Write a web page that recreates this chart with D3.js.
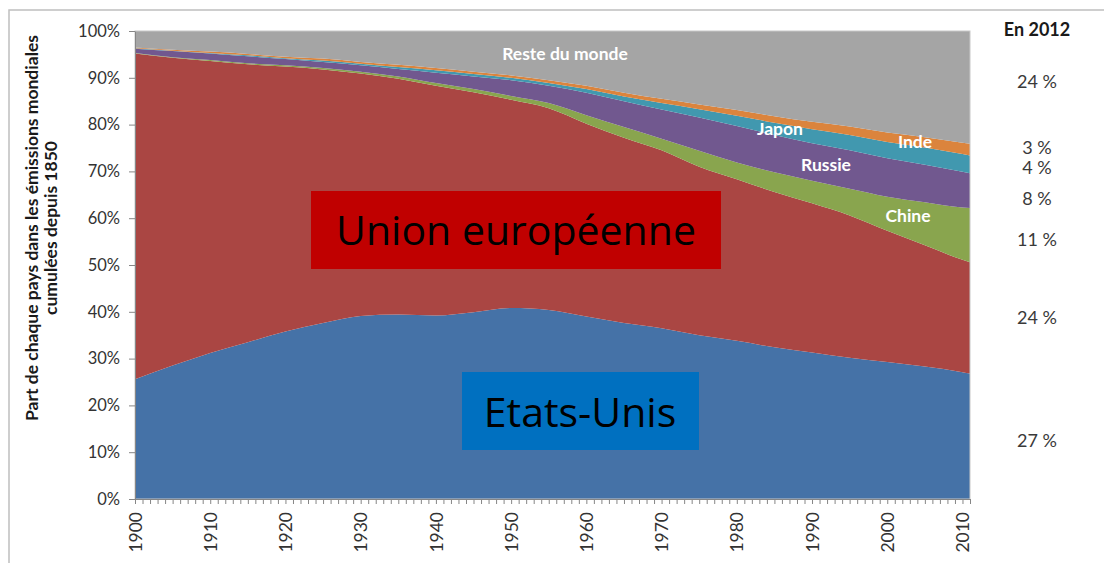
<!DOCTYPE html>
<html lang="fr">
<head>
  <meta charset="UTF-8">
  <title>Emissions cumulées depuis 1850</title>
  <style>
    body { margin: 0; background: #fff; }
    svg { display: block; font-family: Lato, 'Open Sans', sans-serif; }
    .axis path, .axis line { stroke: #868686; }
    .axis text { fill: #333; font-size: 16.5px; font-family: Lato, sans-serif; }
    .xaxis text { font-size: 17.5px; }
    .inlabel { fill: #fff; font-weight: bold; font-size: 17.5px; }
    .share { fill: #3a3a3a; font-size: 18px; }
    .big { font-family: 'Open Sans', sans-serif; fill: #000; }
  </style>
</head>
<body>
<script src="https://cdnjs.cloudflare.com/ajax/libs/d3/7.8.5/d3.min.js"></script>
<script>
  // data (% of cumulative world emissions since 1850)
  const years     = [1900,1905,1910,1915,1920,1925,1930,1935,1940,1945,1950,1955,1960,1965,1970,1975,1980,1985,1990,1995,2000,2005,2010,2011];
  const etatsUnis = [25.6,28.5,31.2,33.5,35.8,37.6,39.1,39.4,39.2,39.9,40.8,40.4,39.0,37.6,36.5,35.0,33.8,32.4,31.3,30.2,29.3,28.3,27.1,26.8];
  const unionEur  = [69.6,65.8,62.4,59.4,56.6,54.2,51.8,50.4,49.1,47.0,44.5,43.1,41.2,39.6,38.0,36.0,34.5,33.2,31.9,30.4,28.0,25.9,24.0,23.8];
  const chine     = [0.1,0.1,0.2,0.2,0.3,0.3,0.4,0.5,0.6,0.7,0.8,1.1,1.8,2.3,2.5,3.4,3.6,4.2,4.8,5.7,7.3,9.2,11.2,11.6];
  const russie    = [0.9,1.3,1.4,1.5,1.3,1.3,1.4,1.6,2.2,2.7,3.4,3.7,4.8,5.5,6.2,7.1,7.8,8.0,8.0,8.2,8.2,8.0,7.6,7.4];
  const japon     = [0.1,0.1,0.1,0.2,0.2,0.3,0.3,0.4,0.5,0.5,0.5,0.6,0.8,1.0,1.4,1.8,2.2,2.6,3.0,3.3,3.5,3.7,3.8,3.8];
  const inde      = [0.2,0.2,0.3,0.3,0.3,0.4,0.4,0.5,0.5,0.5,0.5,0.6,0.7,0.8,0.9,1.0,1.2,1.4,1.6,1.8,2.0,2.2,2.4,2.5];
  const reste     = [3.5,4.0,4.4,4.9,5.5,5.9,6.6,7.2,7.9,8.7,9.5,10.5,11.7,13.2,14.5,15.7,16.9,18.2,19.4,20.4,21.7,22.7,23.9,24.1];

  const seriesKeys   = ['us','ue','chine','russie','japon','inde','reste'];
  const seriesColors = ['#4572A7','#AA4643','#89A54E','#71588F','#4198AF','#DB843D','#A5A5A5'];

  const yTicks = [0,10,20,30,40,50,60,70,80,90,100];
  const decades = [1900,1910,1920,1930,1940,1950,1960,1970,1980,1990,2000,2010];

  // values shown at the right, "En 2012"
  const share2012 = ['24 %','3 %','4 %','8 %','11 %','24 %','27 %'];

  const W = 1104, H = 563;
  const plot = {left: 135, right: 970, top: 31, bottom: 499};

  const svg = d3.select('body').append('svg').attr('width', W).attr('height', H);

  // outer frame
  svg.append('rect')
    .attr('x', 9).attr('y', 10).attr('width', 1200).attr('height', 700)
    .attr('fill', 'none').attr('stroke', '#BFBFBF').attr('stroke-width', 1.5);

  const x = d3.scaleLinear().domain([1900, 2011]).range([plot.left, plot.right]);
  const y = d3.scaleLinear().domain([0, 100]).range([plot.bottom, plot.top]);

  const table = years.map((yr, i) => ({
    year: yr, us: etatsUnis[i], ue: unionEur[i], chine: chine[i], russie: russie[i],
    japon: japon[i], inde: inde[i], reste: reste[i]
  }));

  const stacked = d3.stack().keys(seriesKeys)(table);

  const area = d3.area()
    .x(d => x(d.data.year))
    .y0(d => y(d[0]))
    .y1(d => y(Math.min(100, d[1])))
    .curve(d3.curveMonotoneX);

  svg.append('g').selectAll('path')
    .data(stacked)
    .join('path')
    .attr('d', area)
    .attr('fill', (d, i) => seriesColors[i]);

  // plot area border
  svg.append('rect')
    .attr('x', plot.left).attr('y', plot.top)
    .attr('width', plot.right - plot.left).attr('height', plot.bottom - plot.top)
    .attr('fill', 'none').attr('stroke', '#C8C8C8');

  // y axis
  svg.append('g')
    .attr('class', 'axis')
    .attr('transform', `translate(${plot.left},0)`)
    .call(d3.axisLeft(y).tickValues(yTicks).tickFormat(d => d + '%').tickSize(6).tickSizeOuter(0).tickPadding(9));

  // x axis: minor tick every year, label every decade
  const xAxis = svg.append('g')
    .attr('class', 'axis xaxis')
    .attr('transform', `translate(0,${plot.bottom})`)
    .call(d3.axisBottom(x).tickValues(d3.range(1900, 2012)).tickSize(5).tickSizeOuter(0)
      .tickFormat(d => decades.includes(d) ? d : ''));
  xAxis.selectAll('text')
    .attr('transform', 'rotate(-90)')
    .attr('x', -13).attr('y', 0).attr('dy', '0.35em')
    .style('text-anchor', 'end');

  // y axis title
  const title = svg.append('text')
    .attr('transform', 'translate(0,228) rotate(-90)')
    .attr('text-anchor', 'middle')
    .style('font-weight', 'bold').style('font-size', '17.5px').style('fill', '#1a1a1a');
  title.append('tspan').attr('x', 0).attr('y', 38).text('Part de chaque pays dans les émissions mondiales');
  title.append('tspan').attr('x', 0).attr('y', 57).text('cumulées depuis 1850');

  // labels inside the areas
  const inLabels = [
    {t: 'Reste du monde', x: 565, y: 54},
    {t: 'Japon', x: 780, y: 129},
    {t: 'Inde', x: 915, y: 142},
    {t: 'Russie', x: 826, y: 165},
    {t: 'Chine', x: 908, y: 216}
  ];
  svg.selectAll('.inlabel')
    .data(inLabels)
    .join('text')
    .attr('class', 'inlabel')
    .attr('x', d => d.x).attr('y', d => d.y)
    .attr('dy', '0.35em')
    .attr('text-anchor', 'middle')
    .text(d => d.t);

  // big boxed labels
  svg.append('rect').attr('x', 311).attr('y', 191).attr('width', 410).attr('height', 78).attr('fill', '#C00000');
  svg.append('text').attr('class', 'big').attr('x', 516).attr('y', 245)
    .attr('text-anchor', 'middle').style('font-size', '41px').text('Union européenne');

  svg.append('rect').attr('x', 462).attr('y', 372).attr('width', 237).attr('height', 78).attr('fill', '#0070C0');
  svg.append('text').attr('class', 'big').attr('x', 580).attr('y', 427)
    .attr('text-anchor', 'middle').style('font-size', '41px').text('Etats-Unis');

  // right column "En 2012"
  svg.append('text')
    .attr('x', 1037).attr('y', 30).attr('dy', '0.35em')
    .attr('text-anchor', 'middle')
    .style('font-weight', 'bold').style('font-size', '18px').style('fill', '#1a1a1a')
    .text('En 2012');

  const shareY = [82, 148, 168, 199, 240, 318, 441];
  svg.selectAll('.share')
    .data(share2012)
    .join('text')
    .attr('class', 'share')
    .attr('x', 1037).attr('y', (d, i) => shareY[i]).attr('dy', '0.35em')
    .attr('text-anchor', 'middle')
    .text(d => d);
</script>
</body>
</html>
